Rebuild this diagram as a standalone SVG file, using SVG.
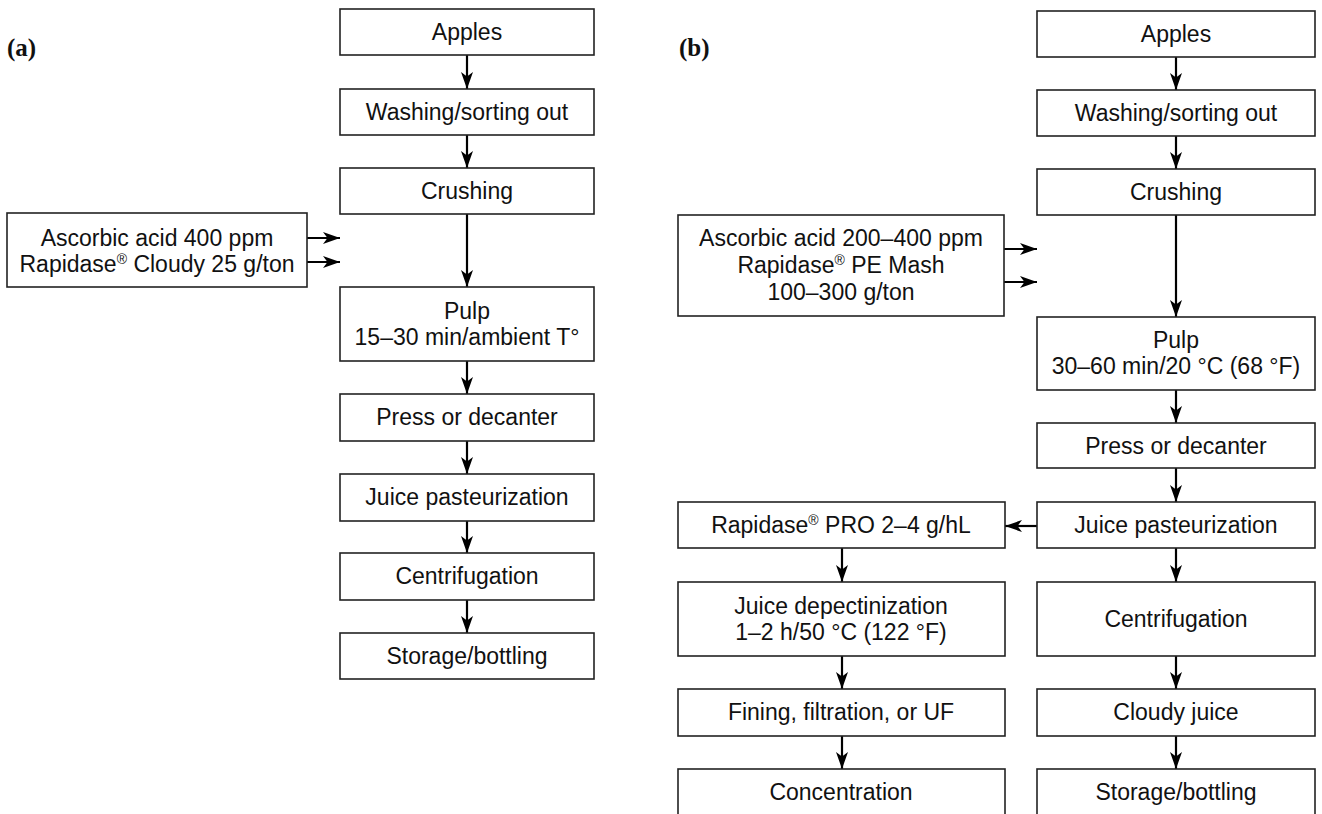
<svg xmlns="http://www.w3.org/2000/svg" width="1322" height="814" viewBox="0 0 1322 814">
<defs>
<style>
.box{fill:#fff;stroke:#222;stroke-width:1.6}
.t{font-family:"Liberation Sans",Arial,sans-serif;font-size:23px;fill:#111;text-anchor:middle}
.lab{font-family:"Liberation Serif","Times New Roman",serif;font-size:25px;font-weight:bold;fill:#111}
.c{stroke:#000;stroke-width:2.2;fill:none;marker-end:url(#ah)}
.sup{font-size:14px}
</style>
<marker id="ah" markerWidth="18" markerHeight="14" refX="17" refY="7" orient="auto" markerUnits="userSpaceOnUse">
<path d="M0,1 L17,7 L0,13 L4.5,7 Z" fill="#000"/>
</marker>
</defs>
<rect width="1322" height="814" fill="#fff"/>
<text class="lab" x="7" y="56">(a)</text>
<text class="lab" x="679" y="56">(b)</text>

<g id="connectors">
<line class="c" x1="467" y1="55" x2="467" y2="89"/>
<line class="c" x1="467" y1="135" x2="467" y2="168"/>
<line class="c" x1="467" y1="214" x2="467" y2="287"/>
<line class="c" x1="467" y1="361" x2="467" y2="394"/>
<line class="c" x1="467" y1="441" x2="467" y2="474"/>
<line class="c" x1="467" y1="521" x2="467" y2="553"/>
<line class="c" x1="467" y1="600" x2="467" y2="633"/>
<line class="c" x1="307" y1="238" x2="340" y2="238"/>
<line class="c" x1="307" y1="262" x2="340" y2="262"/>
<line class="c" x1="1176" y1="57" x2="1176" y2="90"/>
<line class="c" x1="1176" y1="136" x2="1176" y2="169"/>
<line class="c" x1="1176" y1="215" x2="1176" y2="317"/>
<line class="c" x1="1176" y1="390" x2="1176" y2="423"/>
<line class="c" x1="1176" y1="468" x2="1176" y2="502"/>
<line class="c" x1="1176" y1="548" x2="1176" y2="582"/>
<line class="c" x1="1176" y1="656" x2="1176" y2="689"/>
<line class="c" x1="1176" y1="736" x2="1176" y2="769"/>
<line class="c" x1="1004" y1="249" x2="1037" y2="249"/>
<line class="c" x1="1004" y1="282" x2="1037" y2="282"/>
<line class="c" x1="1037" y1="526" x2="1005" y2="526"/>
<line class="c" x1="842" y1="548" x2="842" y2="582"/>
<line class="c" x1="842" y1="656" x2="842" y2="689"/>
<line class="c" x1="842" y1="736" x2="842" y2="769"/>
</g>

<g id="a-apples"><rect class="box" x="340" y="9" width="254" height="46"/><text class="t" x="467" y="40">Apples</text></g>
<g id="a-washing"><rect class="box" x="340" y="89" width="254" height="46"/><text class="t" x="467" y="120">Washing/sorting out</text></g>
<g id="a-crushing"><rect class="box" x="340" y="168" width="254" height="46"/><text class="t" x="467" y="199">Crushing</text></g>
<g id="a-additives"><rect class="box" x="7" y="213" width="300" height="74"/>
<text class="t" x="157" y="246">Ascorbic acid 400 ppm</text>
<text class="t" x="157" y="272">Rapidase<tspan class="sup" dy="-8">®</tspan><tspan dy="8"> Cloudy 25 g/ton</tspan></text></g>
<g id="a-pulp"><rect class="box" x="340" y="287" width="254" height="74"/>
<text class="t" x="467" y="319">Pulp</text><text class="t" x="467" y="345">15–30 min/ambient T°</text></g>
<g id="a-press"><rect class="box" x="340" y="394" width="254" height="47"/><text class="t" x="467" y="425">Press or decanter</text></g>
<g id="a-pasteur"><rect class="box" x="340" y="474" width="254" height="47"/><text class="t" x="467" y="505">Juice pasteurization</text></g>
<g id="a-centrif"><rect class="box" x="340" y="553" width="254" height="47"/><text class="t" x="467" y="584">Centrifugation</text></g>
<g id="a-storage"><rect class="box" x="340" y="633" width="254" height="46"/><text class="t" x="467" y="664">Storage/bottling</text></g>

<g id="b-apples"><rect class="box" x="1037" y="11" width="278" height="46"/><text class="t" x="1176" y="42">Apples</text></g>
<g id="b-washing"><rect class="box" x="1037" y="90" width="278" height="46"/><text class="t" x="1176" y="121">Washing/sorting out</text></g>
<g id="b-crushing"><rect class="box" x="1037" y="169" width="278" height="46"/><text class="t" x="1176" y="200">Crushing</text></g>
<g id="b-additives"><rect class="box" x="678" y="215" width="326" height="101"/>
<text class="t" x="841" y="246">Ascorbic acid 200–400 ppm</text>
<text class="t" x="841" y="273">Rapidase<tspan class="sup" dy="-8">®</tspan><tspan dy="8"> PE Mash</tspan></text>
<text class="t" x="841" y="300">100–300 g/ton</text></g>
<g id="b-pulp"><rect class="box" x="1037" y="317" width="278" height="73"/>
<text class="t" x="1176" y="348">Pulp</text><text class="t" x="1176" y="374">30–60 min/20 °C (68 °F)</text></g>
<g id="b-press"><rect class="box" x="1037" y="423" width="278" height="45"/><text class="t" x="1176" y="454">Press or decanter</text></g>
<g id="b-pasteur"><rect class="box" x="1037" y="502" width="278" height="46"/><text class="t" x="1176" y="533">Juice pasteurization</text></g>
<g id="b-pro"><rect class="box" x="678" y="502" width="327" height="46"/><text class="t" x="841" y="533">Rapidase<tspan class="sup" dy="-8">®</tspan><tspan dy="8"> PRO 2–4 g/hL</tspan></text></g>
<g id="b-depect"><rect class="box" x="678" y="582" width="327" height="74"/>
<text class="t" x="841" y="614">Juice depectinization</text><text class="t" x="841" y="640">1–2 h/50 °C (122 °F)</text></g>
<g id="b-centrif"><rect class="box" x="1037" y="582" width="278" height="74"/><text class="t" x="1176" y="627">Centrifugation</text></g>
<g id="b-fining"><rect class="box" x="678" y="689" width="327" height="47"/><text class="t" x="841" y="720">Fining, filtration, or UF</text></g>
<g id="b-cloudy"><rect class="box" x="1037" y="689" width="278" height="47"/><text class="t" x="1176" y="720">Cloudy juice</text></g>
<g id="b-concentration"><rect class="box" x="678" y="769" width="327" height="60"/><text class="t" x="841" y="800">Concentration</text></g>
<g id="b-storage"><rect class="box" x="1037" y="769" width="278" height="60"/><text class="t" x="1176" y="800">Storage/bottling</text></g>
</svg>
